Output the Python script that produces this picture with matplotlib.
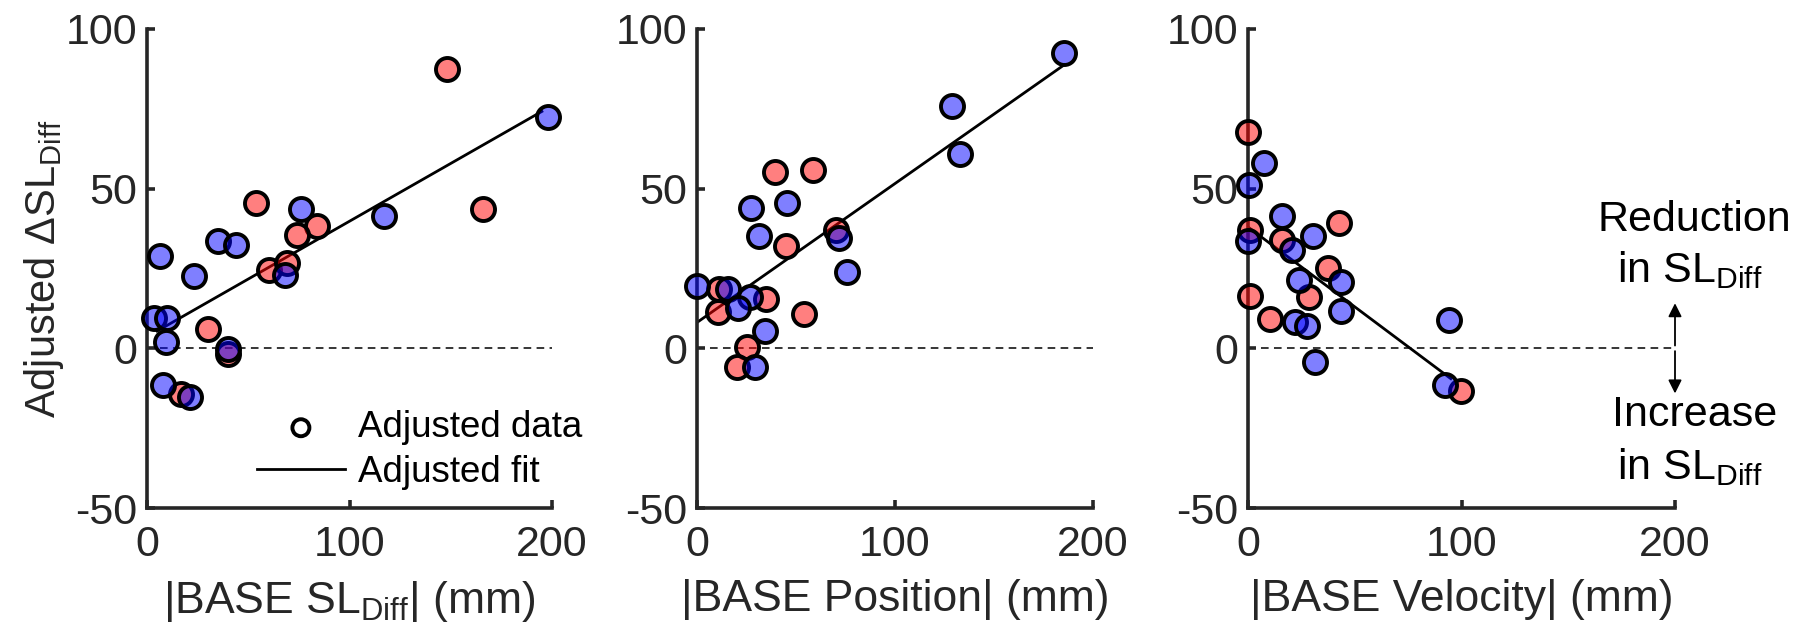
import matplotlib.pyplot as plt
import numpy as np

plt.rcParams['font.family'] = ['Liberation Sans', 'DejaVu Sans']
plt.rcParams['mathtext.fontset'] = 'custom'
plt.rcParams['mathtext.rm'] = 'Liberation Sans'
plt.rcParams['mathtext.it'] = 'Liberation Sans:italic'
plt.rcParams['axes.unicode_minus'] = False

# ----- Data -----
# panel 1: |BASE SL_Diff|
p1_red_x = [148, 166, 54, 84, 74, 60, 69, 30, 40, 17]
p1_red_y = [87.4, 43.6, 45.4, 38.4, 35.6, 24.5, 26.8, 6.2, -1.8, -14.2]
p1_blue_x = [198, 117, 76, 35, 44, 6.4, 23, 68, 3.6, 10, 9.4, 40, 7.7, 21]
p1_blue_y = [72.4, 41.3, 43.6, 33.5, 32.5, 28.8, 22.6, 23.1, 9.6, 9.6, 1.9, -0.2, -11.4, -15.2]

# panel 2: |BASE Position|
p2_red_x = [39.6, 58.8, 45, 70.2, 11.3, 34.8, 10.8, 54.2, 25.3, 20.2]
p2_red_y = [55.3, 56, 32, 37.1, 18.7, 15.4, 11.5, 10.7, 0.3, -5.9]
p2_blue_x = [185.5, 129, 133, 45.5, 27.3, 31.1, 71.9, 75.6, 0, 15.5, 27, 20.9, 34.3, 29.3]
p2_blue_y = [92.6, 76, 61, 45.6, 43.9, 35.3, 34.5, 23.9, 19.5, 18.5, 16.1, 12.6, 5.3, -5.7]

# panel 3: |BASE Velocity|
p3_red_x = [0, 42.8, 0.9, 16.1, 37.6, 28.4, 0.9, 10.1, 99.6]
p3_red_y = [67.8, 39.3, 37.2, 34, 25.2, 16.1, 16.4, 9.3, -13.5]
p3_blue_x = [7.3, 0.5, 16.1, 30.3, 0, 20.7, 43.5, 23.9, 43.5, 22, 27.5, 94, 31.6, 92.3]
p3_blue_y = [57.9, 51.2, 41.3, 35.1, 33.5, 30.7, 20.8, 21.3, 11.7, 8.3, 7.1, 8.8, -4.2, -11.6]

# adjusted fits: intercept, slope, x range
fit_intercept = [3.6, 8.1, 38.0]
fit_slope = [0.362, 0.435, -0.50]
fit_xrange = [(5, 195), (0, 185.5), (0, 95)]

xlabels = [r'|BASE SL$_{\mathrm{Diff}}$| (mm)', '|BASE Position| (mm)', '|BASE Velocity| (mm)']

panels = [
    (p1_red_x, p1_red_y, p1_blue_x, p1_blue_y),
    (p2_red_x, p2_red_y, p2_blue_x, p2_blue_y),
    (p3_red_x, p3_red_y, p3_blue_x, p3_blue_y),
]

# ----- Plotting -----
fig = plt.figure(figsize=(18.14, 6.40), dpi=100)
axes_rects = [
    [147 / 1814, 132 / 640, 405 / 1814, 479 / 640],
    [697 / 1814, 132 / 640, 396 / 1814, 479 / 640],
    [1248 / 1814, 132 / 640, 427 / 1814, 479 / 640],
]
gray = '#262626'

for i, (rx, ry, bx, by) in enumerate(panels):
    ax = fig.add_axes(axes_rects[i])
    ax.set_xlim(0, 200)
    ax.set_ylim(-50, 100)
    ax.plot([0, 200], [0, 0], 'k--', lw=1.1, dashes=(5, 3.5), zorder=1)

    x0, x1 = fit_xrange[i]
    xs = np.array([x0, x1])
    ax.plot(xs, fit_intercept[i] + fit_slope[i] * xs, color='k', lw=2.0, zorder=2)

    ax.scatter(rx, ry, s=275, facecolor=(1, 0, 0, 0.5), edgecolor='k',
               linewidth=2.8, zorder=3, clip_on=False)
    ax.scatter(bx, by, s=275, facecolor=(0, 0, 1, 0.5), edgecolor='k',
               linewidth=2.8, zorder=4, clip_on=False)

    for side in ['top', 'right']:
        ax.spines[side].set_visible(False)
    for side in ['left', 'bottom']:
        ax.spines[side].set_linewidth(2.6)
        ax.spines[side].set_color(gray)
    ax.set_xticks([0, 100, 200])
    ax.set_yticks([-50, 0, 50, 100])
    ax.tick_params(direction='in', length=6, width=2.6, colors=gray, labelsize=31)
    ax.tick_params(axis='x', pad=12)
    ax.tick_params(axis='y', pad=7)
    ax.set_xlabel(xlabels[i], fontsize=32, color=gray, labelpad=10)

    if i == 0:
        ax.set_ylabel(r'Adjusted $\Delta$SL$_{\mathrm{Diff}}$', fontsize=30, color=gray, labelpad=0)
        ax.scatter([], [], s=150, facecolor='none', edgecolor='k', linewidth=2.8, label='Adjusted data')
        ax.plot([], [], color='k', lw=2.0, label='Adjusted fit')
        ax.legend(loc='lower right', bbox_to_anchor=(1.12, 0.0), frameon=False, fontsize=26.5,
                  handlelength=2.4, handletextpad=0.35, labelspacing=0.25, borderpad=0)

    if i == 2:
        ax.annotate('', xy=(200, 15), xytext=(200, 0),
                    arrowprops=dict(arrowstyle='-|>', color='k', lw=1.3, mutation_scale=20),
                    annotation_clip=False)
        ax.annotate('', xy=(200, -15), xytext=(200, 0),
                    arrowprops=dict(arrowstyle='-|>', color='k', lw=1.3, mutation_scale=20),
                    annotation_clip=False)
        ax.text(209, 36.6, 'Reduction', fontsize=31, ha='center', va='baseline')
        ax.text(207, 20.6, r'in SL$_{\mathrm{Diff}}$', fontsize=31, ha='center', va='baseline')
        ax.text(209, -24.4, 'Increase', fontsize=31, ha='center', va='baseline')
        ax.text(207, -41, r'in SL$_{\mathrm{Diff}}$', fontsize=31, ha='center', va='baseline')

plt.savefig('out.png', dpi=100)
